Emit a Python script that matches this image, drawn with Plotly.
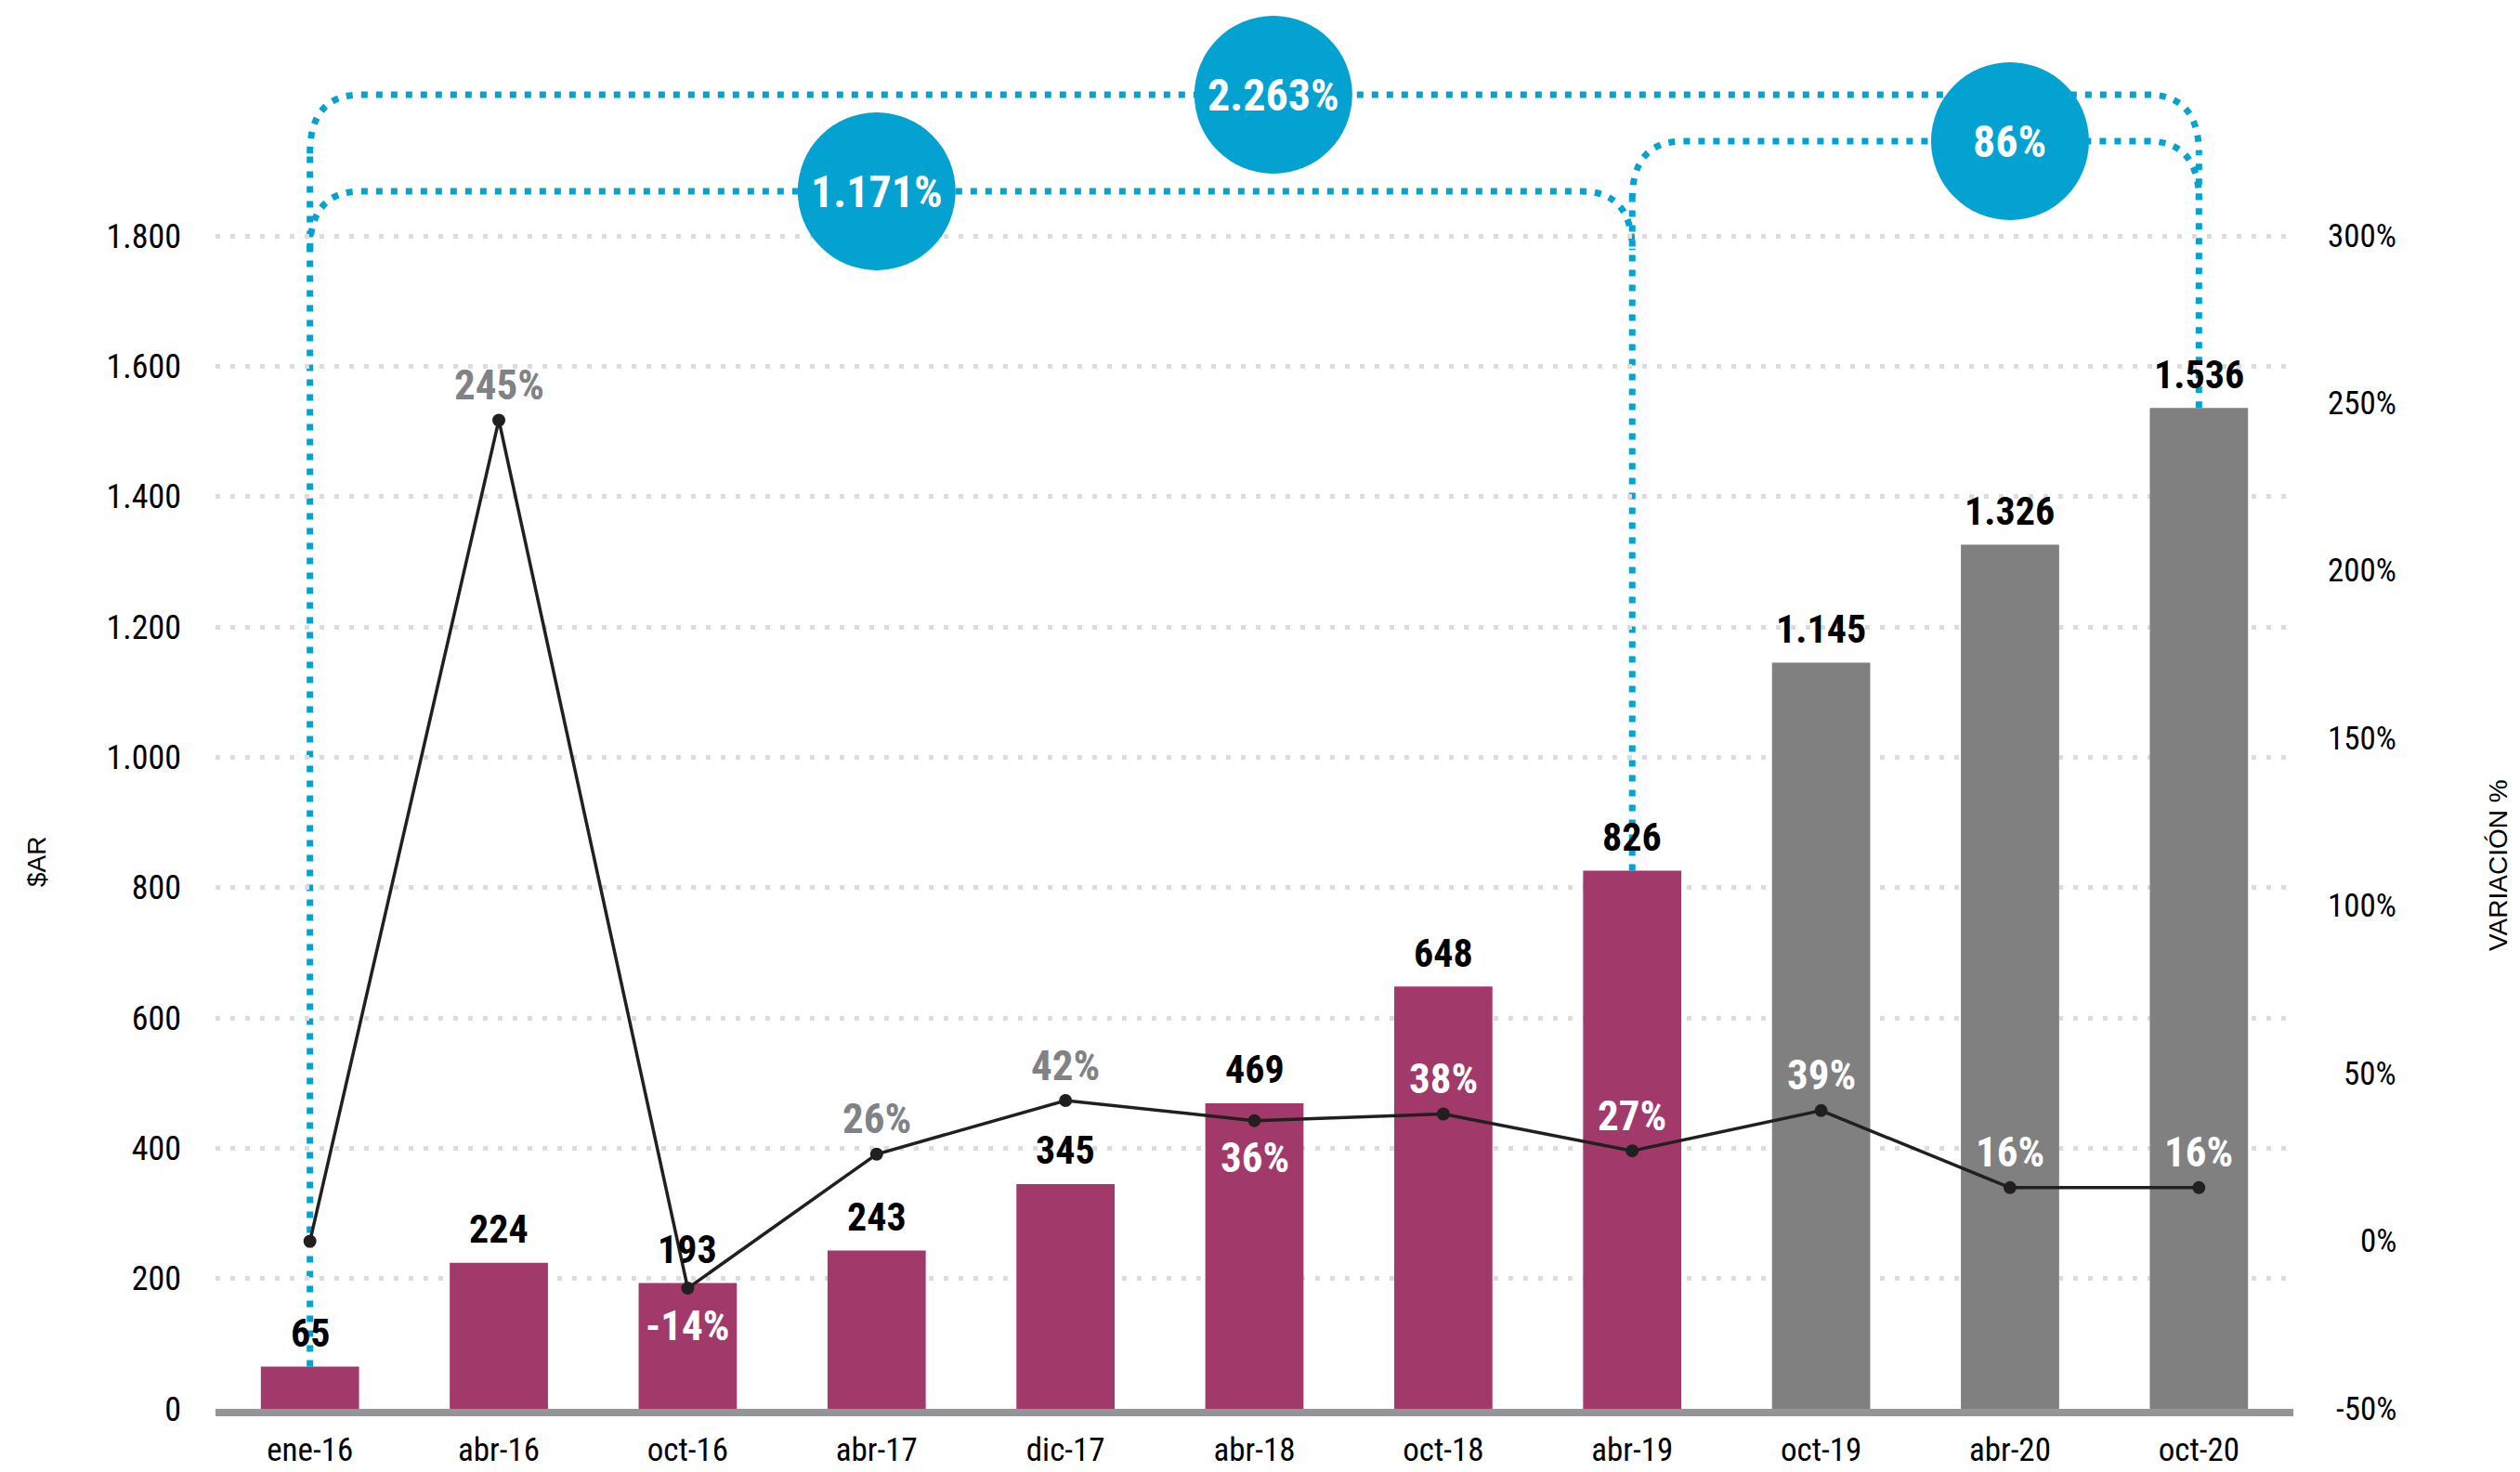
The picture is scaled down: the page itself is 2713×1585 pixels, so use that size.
import plotly.graph_objects as go

# ---------------- data ----------------
categories = ["ene-16", "abr-16", "oct-16", "abr-17", "dic-17", "abr-18",
              "oct-18", "abr-19", "oct-19", "abr-20", "oct-20"]
values = [65, 224, 193, 243, 345, 469, 648, 826, 1145, 1326, 1536]
variation = [0, 245, -14, 26, 42, 36, 38, 27, 39, 16, 16]
projected = [False] * 8 + [True] * 3          # last three bars in grey
left_ticks = [0, 200, 400, 600, 800, 1000, 1200, 1400, 1600, 1800]
right_ticks = [-50, 0, 50, 100, 150, 200, 250, 300]
# cumulative variations: (from index, to index, label)
spans = [(0, 10, "2.263%"), (0, 7, "1.171%"), (7, 10, "86%")]

# ---------------- styling ----------------
COND = "Roboto Condensed, Liberation Sans Narrow, DejaVu Sans Condensed, Roboto, sans-serif"
PLAIN = "Liberation Sans, Arial, sans-serif"
PURPLE = "#a13a6a"
GREY_BAR = "#808080"
BLUE = "#03a2d1"
LABEL_GREY = "#808285"
DARK = "#231f20"

W, H = 2713, 1585
ML, MR, MT, MB = 232, 244, 0, 68
plot_h = H - MT - MB
Y_TOP = 2162.0                    # left axis top (so that 1.800 sits near the top)
pct_per_unit = 350 / 1800.0       # right axis: -50% at 0, 300% at 1800
Y2_BOT, Y2_TOP = -50, -50 + Y_TOP * pct_per_unit


def thousands(v):
    return f"{v:,}".replace(",", ".")


fig = go.Figure()

fig.add_trace(go.Bar(
    x=list(range(len(categories))), y=values,
    marker=dict(color=[GREY_BAR if p else PURPLE for p in projected], line=dict(width=0)),
    width=0.52, hoverinfo="skip", showlegend=False,
))

fig.add_trace(go.Scatter(
    x=list(range(len(categories))), y=variation, yaxis="y2",
    mode="lines+markers", line=dict(color=DARK, width=3.5),
    marker=dict(color=DARK, size=14), hoverinfo="skip", showlegend=False,
))

annotations = []

# bar value labels
for i, v in enumerate(values):
    annotations.append(dict(
        x=i, y=v, xref="x", yref="y", text=f"<b>{thousands(v)}</b>", showarrow=False,
        yshift=36, font=dict(family=COND, size=42, color="black")))


def pct_to_left(p):
    return (p - Y2_BOT) / pct_per_unit


# variation labels (white when sitting inside a bar, grey otherwise)
for i, p in enumerate(variation):
    if i == 0:
        continue
    below = i in (2, 5)
    shift = -40 if below else 38
    label_y_units = pct_to_left(p) + shift / (plot_h / Y_TOP)
    inside = label_y_units < values[i]
    annotations.append(dict(
        x=i, y=p, xref="x", yref="y2", text=f"<b>{p}%</b>", showarrow=False,
        yshift=shift, font=dict(family=COND, size=45, color="white" if inside else LABEL_GREY)))

# right axis labels (right-aligned)
for t in right_ticks:
    annotations.append(dict(
        x=(2582 - ML) / (W - ML - MR), xref="paper", y=t, yref="y2", xanchor="right",
        text=f"{t}%", showarrow=False, font=dict(family=COND, size=35, color="black")))

# axis titles
annotations.append(dict(x=(39 - ML) / (W - ML - MR), y=(plot_h - 928) / plot_h, xref="paper", yref="paper",
                        xanchor="center", yanchor="middle",
                        text="$AR", textangle=-90, showarrow=False,
                        font=dict(family=PLAIN, size=28, color="black")))
annotations.append(dict(x=(2689 - ML) / (W - ML - MR), y=(plot_h - 932) / plot_h, xref="paper", yref="paper",
                        xanchor="center", yanchor="middle",
                        text="VARIACIÓN %", textangle=-90, showarrow=False,
                        font=dict(family=PLAIN, size=28, color="black")))

# ---------------- cumulative connectors ----------------
k = plot_h / Y_TOP                 # px per left unit
y_outer = (plot_h - 102) / k
y_inner = (plot_h - 206) / k
y_86 = (plot_h - 152) / k
rx = 0.27
ry = 90
line_style = dict(color=BLUE, width=7, dash="7px,9px")
shapes = []


def path(d):
    shapes.append(dict(type="path", path=d, xref="x", yref="y", line=line_style, layer="below"))


# verticals rising from bar tops
path(f"M 0,{values[0]} L 0,{y_outer - ry}")
path(f"M 10,{values[10]} L 10,{y_outer - ry}")
path(f"M 7,{values[7]} L 7,{y_86 - ry}")
# horizontal spans with rounded corners
for (a, b, _), yy in zip(spans, [y_outer, y_inner, y_86]):
    path(f"M {a},{yy - ry} Q {a},{yy} {a + rx},{yy} L {b - rx},{yy} Q {b},{yy} {b},{yy - ry}")

# circles with labels
circle_x = [5.1, 3, 9]
for (a, b, lab), cx, yy in zip(spans, circle_x, [y_outer, y_inner, y_86]):
    shapes.append(dict(type="circle", xref="x", yref="y", xsizemode="pixel", ysizemode="pixel",
                       xanchor=cx, yanchor=yy, x0=-85, x1=85, y0=-85, y1=85,
                       fillcolor=BLUE, line=dict(width=0), layer="above"))
    annotations.append(dict(x=cx, y=yy, xref="x", yref="y", text=f"<b>{lab}</b>", showarrow=False,
                            font=dict(family=COND, size=48, color="white")))

fig.update_layout(
    width=W, height=H,
    margin=dict(l=ML, r=MR, t=MT, b=MB, autoexpand=False),
    paper_bgcolor="white", plot_bgcolor="white",
    xaxis=dict(range=[-0.5, 10.5], tickvals=list(range(len(categories))), ticktext=categories,
               showgrid=False, zeroline=False, showline=True, linecolor="#939598", linewidth=8,
               ticks="", tickfont=dict(family=COND, size=35, color="black"),
               ticklabelstandoff=6, fixedrange=True),
    yaxis=dict(range=[0, Y_TOP], tickvals=left_ticks, ticktext=[thousands(t) for t in left_ticks],
               showgrid=True, gridcolor="#dcdcdc", gridwidth=5, griddash="5px,11px",
               zeroline=False, showline=False, ticks="",
               tickfont=dict(family=COND, size=36, color="black"), ticklabelstandoff=36),
    yaxis2=dict(range=[Y2_BOT, Y2_TOP], overlaying="y", side="right", showgrid=False,
                zeroline=False, showticklabels=False, ticks=""),
    annotations=annotations,
    shapes=shapes,
)

fig.write_html("out.html", config={"displayModeBar": False},
               post_script="document.body.style.margin='0';document.body.style.overflow='hidden';")
